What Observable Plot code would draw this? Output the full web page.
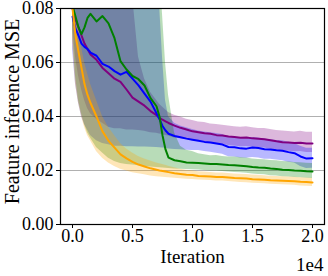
<!DOCTYPE html>
<html><head><meta charset="utf-8">
<script src="https://cdn.jsdelivr.net/npm/d3@7"></script>
<script src="https://cdn.jsdelivr.net/npm/@observablehq/plot@0.6"></script>
<style>
body{margin:0;background:#fff}
svg, svg text { font-family: "Liberation Serif", "Tinos", "Times New Roman", "DejaVu Serif", serif !important; }
</style>
</head><body><div id="chart"></div>
<script>
// iteration (in units of 1e4)
const iterations = [0,0.025,0.05,0.075,0.1,0.125,0.15,0.2,0.25,0.3,0.35,0.4,0.45,0.5,0.55,0.6,0.65,0.7,0.725,0.75,0.775,0.8,0.85,0.9,0.95,1.0,1.05,1.1,1.15,1.2,1.25,1.3,1.35,1.4,1.45,1.5,1.55,1.6,1.65,1.7,1.75,1.8,1.85,1.9,1.95,2.0];

const purpleMean = [0.080,0.076,0.073,0.070,0.067,0.065,0.063,0.061,0.058,0.056,0.054,0.0528,0.050,0.047,0.0455,0.044,0.042,0.0405,0.0395,0.0388,0.0382,0.0376,0.0366,0.0358,0.0352,0.0345,0.0342,0.0338,0.0336,0.0331,0.0330,0.0326,0.0324,0.0321,0.0322,0.0319,0.0318,0.0316,0.0312,0.0308,0.0305,0.0304,0.0302,0.0303,0.0300,0.0300];
const purpleHi = [0.095,0.09,0.09,0.09,0.09,0.09,0.09,0.09,0.09,0.09,0.09,0.09,0.09,0.085,0.062,0.054,0.049,0.046,0.0445,0.0435,0.0425,0.0415,0.0405,0.0398,0.039,0.0385,0.038,0.0378,0.0372,0.037,0.0368,0.0365,0.0362,0.036,0.0362,0.0358,0.0356,0.0356,0.0352,0.0348,0.0346,0.0344,0.0343,0.0345,0.0342,0.0342];
const purpleLo = [0.075,0.062,0.055,0.050,0.046,0.043,0.041,0.039,0.0375,0.036,0.0355,0.0355,0.035,0.035,0.0348,0.0345,0.034,0.0338,0.0335,0.0333,0.033,0.0328,0.032,0.0318,0.0315,0.031,0.0308,0.0305,0.0303,0.0298,0.0297,0.0293,0.0291,0.0288,0.0289,0.0286,0.0285,0.0283,0.0279,0.0275,0.0272,0.0271,0.0269,0.027,0.0267,0.0267];

const blueMean = [0.077,0.0725,0.070,0.067,0.0658,0.065,0.0637,0.0625,0.0595,0.0585,0.0568,0.0555,0.0565,0.054,0.0515,0.0485,0.0455,0.0412,0.039,0.0365,0.0348,0.0336,0.0328,0.0323,0.0318,0.0314,0.031,0.0306,0.0304,0.030,0.0296,0.0287,0.0286,0.0282,0.0281,0.0285,0.0283,0.0279,0.0278,0.0275,0.0273,0.0268,0.0264,0.0252,0.0244,0.0245];
const blueHi = [0.095,0.095,0.095,0.095,0.095,0.095,0.095,0.095,0.095,0.095,0.095,0.095,0.095,0.095,0.095,0.095,0.095,0.095,0.082,0.062,0.046,0.040,0.0375,0.0365,0.0358,0.0352,0.0346,0.0343,0.034,0.0337,0.0333,0.0324,0.0323,0.0318,0.0318,0.0322,0.032,0.0316,0.0314,0.0311,0.031,0.0305,0.03,0.029,0.0282,0.0282];
const blueLo = [0.065,0.052,0.045,0.040,0.037,0.035,0.033,0.031,0.030,0.0295,0.029,0.029,0.0288,0.0288,0.0287,0.0287,0.0286,0.0285,0.0284,0.0283,0.0282,0.028,0.0278,0.0277,0.0275,0.0274,0.0274,0.027,0.0268,0.0264,0.026,0.0251,0.025,0.0246,0.0245,0.0248,0.0246,0.0242,0.0242,0.0239,0.0236,0.0231,0.0228,0.0215,0.0207,0.0208];

const greenMean = [0.081,0.077,0.073,0.0705,0.073,0.0765,0.078,0.0752,0.0772,0.0745,0.069,0.0605,0.0574,0.055,0.0538,0.0515,0.0468,0.0438,0.040,0.033,0.0278,0.0248,0.0238,0.0234,0.023,0.0229,0.0228,0.0226,0.0224,0.0224,0.0222,0.022,0.0219,0.0218,0.0216,0.0213,0.0211,0.021,0.0207,0.0206,0.0203,0.0202,0.02,0.0199,0.0197,0.0196];
const greenHi = [0.1,0.1,0.1,0.1,0.1,0.1,0.1,0.1,0.1,0.1,0.1,0.1,0.1,0.1,0.1,0.1,0.1,0.1,0.095,0.078,0.06,0.048,0.034,0.029,0.0275,0.027,0.0262,0.0258,0.0255,0.0256,0.0252,0.025,0.025,0.0248,0.0246,0.0243,0.0241,0.024,0.0237,0.0236,0.0233,0.0232,0.023,0.0229,0.0227,0.0226];
const greenLo = [0.072,0.055,0.046,0.041,0.037,0.034,0.032,0.0285,0.0265,0.0245,0.0233,0.0226,0.0222,0.022,0.0218,0.0215,0.0213,0.0211,0.021,0.0209,0.0208,0.0207,0.0206,0.0205,0.0204,0.0203,0.0202,0.02,0.0198,0.0198,0.0196,0.0194,0.0193,0.0192,0.019,0.0187,0.0185,0.0184,0.0181,0.018,0.0177,0.0176,0.0174,0.0173,0.0171,0.017];

const orangeMean = [0.080,0.070,0.064,0.058,0.052,0.048,0.045,0.040,0.0345,0.031,0.0285,0.026,0.0245,0.0232,0.0222,0.0215,0.0208,0.0203,0.0200,0.0198,0.0196,0.0194,0.0190,0.0187,0.0184,0.0183,0.0180,0.0179,0.0178,0.0176,0.0176,0.0174,0.0172,0.0171,0.0170,0.0168,0.0167,0.0166,0.0164,0.0163,0.0162,0.0161,0.0160,0.0158,0.0157,0.0156];
const orangeHi = [0.085,0.078,0.072,0.066,0.060,0.056,0.052,0.046,0.040,0.036,0.033,0.030,0.028,0.0265,0.0252,0.0243,0.0235,0.0228,0.0225,0.0222,0.0219,0.0216,0.021,0.0205,0.0201,0.0199,0.0195,0.0194,0.0193,0.0191,0.0191,0.0189,0.0187,0.0186,0.0185,0.0183,0.0182,0.0181,0.0179,0.0178,0.0177,0.0176,0.0175,0.0173,0.0172,0.0171];
const orangeLo = [0.068,0.052,0.045,0.040,0.036,0.033,0.031,0.027,0.0245,0.0228,0.0215,0.0205,0.0198,0.0192,0.0188,0.0184,0.018,0.0177,0.0176,0.0175,0.0174,0.0173,0.0171,0.0169,0.0168,0.0167,0.0165,0.0164,0.0163,0.0161,0.0161,0.0159,0.0157,0.0156,0.0155,0.0153,0.0152,0.0151,0.0149,0.0148,0.0147,0.0146,0.0145,0.0143,0.0142,0.0141];

const xTicks = [0, 0.5, 1.0, 1.5, 2.0];
const yTicks = [0, 0.02, 0.04, 0.06, 0.08];

const seriesDefs = [
  {name: "purple", color: "#800080", mean: purpleMean, lo: purpleLo, hi: purpleHi},
  {name: "blue", color: "#0000ff", mean: blueMean, lo: blueLo, hi: blueHi},
  {name: "green", color: "#008000", mean: greenMean, lo: greenLo, hi: greenHi},
  {name: "orange", color: "#ffa500", mean: orangeMean, lo: orangeLo, hi: orangeHi}
];

const tables = seriesDefs.map(s => ({
  color: s.color,
  rows: iterations.map((x, i) => ({x, mean: s.mean[i], lo: s.lo[i], hi: s.hi[i]}))
}));

const font = "Liberation Serif, Tinos, Times New Roman, DejaVu Serif, serif";

const chart = Plot.plot({
  width: 328,
  height: 276,
  marginLeft: 60,
  marginRight: 4,
  marginTop: 8,
  marginBottom: 52,
  x: {domain: [-0.1, 2.1]},
  y: {domain: [0, 0.08]},
  style: {fontFamily: font, fontSize: "18px", background: "white", color: "black"},
  marks: [
    Plot.gridY(yTicks, {stroke: "#b0b0b0", strokeOpacity: 1, strokeWidth: 1}),
    ...tables.map(t => Plot.areaY(t.rows, {x: "x", y1: "lo", y2: "hi", fill: t.color, fillOpacity: 0.28, clip: true})),
    ...tables.map(t => Plot.lineY(t.rows, {x: "x", y: "mean", stroke: t.color, strokeWidth: 2, clip: true})),
    Plot.frame({stroke: "black", strokeWidth: 1.2}),
    Plot.axisY(yTicks, {tickFormat: d3.format(".2f"), tickSize: 4, tickPadding: 3, label: null, fontSize: 18, fontFamily: font}),
    Plot.axisX(xTicks, {tickFormat: d3.format(".1f"), tickSize: 4, tickPadding: 1, label: null, fontSize: 18, fontFamily: font}),
    Plot.text(["Feature inference MSE"], {frameAnchor: "left", rotate: -90, dx: -48, dy: -5, textAnchor: "middle", lineAnchor: "middle", fontSize: 20, fontFamily: font}),
    Plot.text(["Iteration"], {frameAnchor: "bottom", dy: 32, textAnchor: "middle", lineAnchor: "middle", fontSize: 19, fontFamily: font}),
    Plot.text(["1e4"], {frameAnchor: "bottom-right", dy: 40, dx: -1, textAnchor: "end", lineAnchor: "middle", fontSize: 19, fontFamily: font})
  ]
});
document.getElementById("chart").appendChild(chart);
</script>
</body></html>
